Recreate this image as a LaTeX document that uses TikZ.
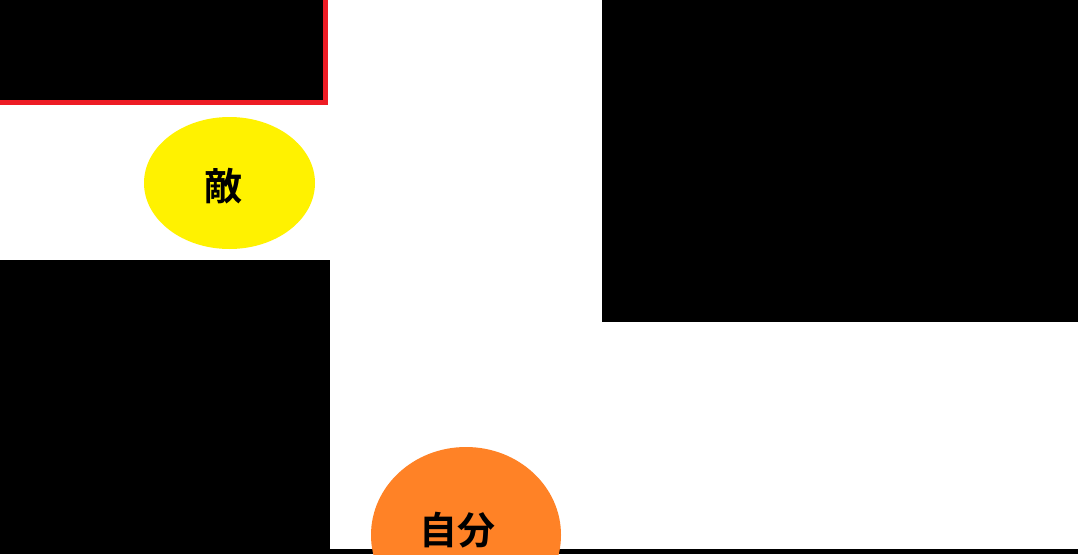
\documentclass[tikz,border=0pt]{standalone}
\usepackage{fontspec}
\newfontfamily\cjk{Noto Sans CJK JP Bold}
\definecolor{enemyyellow}{HTML}{FFF200}
\definecolor{selforange}{HTML}{FF8226}
\definecolor{wallred}{HTML}{ED1C24}
\begin{document}
\begin{tikzpicture}[x=1pt,y=-1pt,
  label text/.style={font=\cjk\fontsize{38}{42}\selectfont,inner sep=0pt}]
\useasboundingbox (0,0) rectangle (1078,554);
\fill[white] (0,0) rectangle (1078,554);
% walls
\fill[wallred] (0,0) rectangle (328,105);
\fill[black] (0,0) rectangle (323,100);
\fill[black] (0,260) rectangle (330,554);
\fill[black] (602,0) rectangle (1078,322);
\fill[black] (330,549) rectangle (1078,554);
% pieces
\fill[enemyyellow] (229.5,183) ellipse [x radius=85.5, y radius=66];
\node[label text] (enemy) at (223,186) {敵};
\fill[selforange] (466,535) ellipse [x radius=95, y radius=88];
\node[label text] (self) at (457,530) {自分};
\end{tikzpicture}
\end{document}
